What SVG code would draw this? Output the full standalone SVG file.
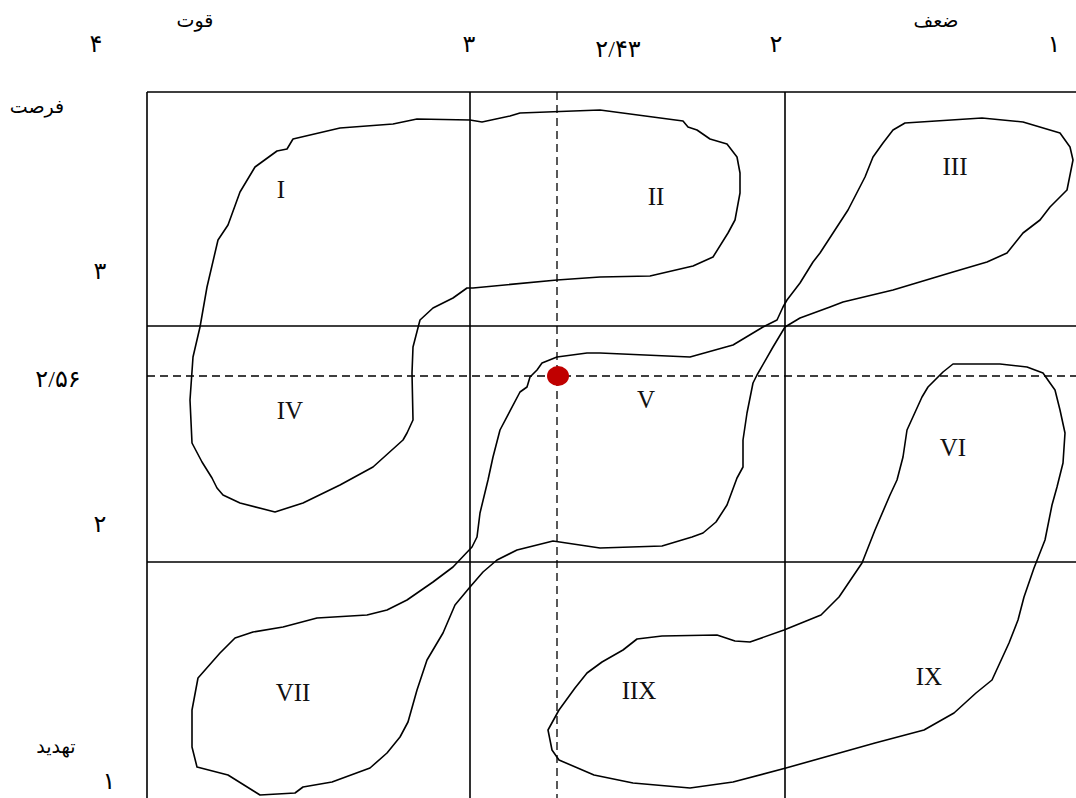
<svg xmlns="http://www.w3.org/2000/svg" width="1076" height="798" viewBox="0 0 1076 798">
<style>
.grid{stroke:#000;stroke-width:1.6;fill:none}
.dash{stroke:#000;stroke-width:1.3;fill:none;stroke-dasharray:8 5}
.blob{fill:none;stroke:#000;stroke-width:1.6;stroke-linejoin:round}
.rn{font-family:"Liberation Serif","Times New Roman",serif;font-size:25px;fill:#111;text-anchor:middle}
.fa{font-family:"Liberation Serif","DejaVu Sans","Noto Sans",serif;font-size:24px;fill:#000;text-anchor:middle}
.fw{font-family:"Liberation Serif","DejaVu Sans","Noto Sans",serif;font-size:19px;fill:#000;text-anchor:middle}
</style>
<rect width="1076" height="798" fill="#fff"/>
<g id="grid">
<path class="grid" d="M147,92 H1076 M147,92 V798 M470,92 V798 M785,92 V798 M147,326 H1076 M147,562 H1076"/>
<path class="dash" d="M147,376 H1076 M557,92 V798"/>
</g>
<g id="connectors">
<path id="blob-I-II-IV" class="blob" d="M293,139 L340,128 L393,124 L417,119 L470,120 L482,122 L510,116 L520,113 L600,110 L683,121 L688,127 L697,130 L710,139 L727,144 L737,157 L740,173 L740,193 L735,220 L728,233 L713,257 L693,266 L650,276 L600,277 L557,280 L473,288 L467,288 L453,298 L433,308 L420,320 L413,347 L412,373 L413,420 L407,433 L403,440 L373,467 L340,485 L303,503 L275,512 L240,503 L223,495 L217,488 L212,478 L202,462 L192,443 L190,400 L193,357 L200,327 L207,287 L218,240 L228,225 L240,192 L255,167 L277,151 L287,149 Z"/>
<path id="blob-III-V-VII" class="blob" d="M557,357 L587,353 L600,353 L690,357 L733,345 L763,327 L777,320 L783,307 L787,300 L800,283 L813,262 L820,253 L848,210 L865,177 L873,157 L883,143 L893,130 L905,123 L982,118 L1023,122 L1060,133 L1070,147 L1073,160 L1067,190 L1050,207 L1040,220 L1023,233 L1007,253 L987,262 L953,272 L933,278 L893,290 L843,302 L830,307 L800,318 L785,327 L773,347 L757,375 L753,383 L747,413 L743,440 L743,467 L737,478 L727,505 L716,522 L703,533 L692,537 L662,546 L600,548 L553,541 L517,550 L497,560 L483,572 L470,587 L455,605 L443,633 L427,660 L417,690 L408,722 L400,737 L387,753 L370,768 L332,782 L303,787 L295,793 L260,795 L228,775 L197,767 L192,747 L192,710 L198,678 L220,653 L235,638 L253,632 L283,627 L317,618 L367,615 L387,610 L407,600 L433,582 L453,567 L472,547 L477,537 L480,513 L488,480 L493,457 L500,430 L520,392 L527,387 L530,377 L537,370 L542,363 Z"/>
<path id="blob-VI-IX-IIX" class="blob" d="M953,364 L1000,364 L1027,367 L1043,373 L1050,383 L1055,390 L1060,410 L1065,433 L1063,463 L1057,487 L1052,505 L1045,540 L1034,568 L1024,597 L1018,620 L1009,643 L992,680 L976,693 L954,713 L924,730 L875,743 L786,768 L733,782 L690,788 L633,783 L594,775 L559,760 L552,750 L548,730 L559,710 L575,688 L587,673 L602,662 L623,650 L637,639 L662,636 L717,635 L735,641 L750,642 L784,630 L821,615 L839,597 L862,563 L875,530 L890,495 L897,480 L903,457 L907,430 L922,397 L928,387 L943,372 Z"/>
</g>
<g id="point"><ellipse cx="558" cy="376" rx="11" ry="10" fill="#c00000"/></g>
<g id="labels">
<text class="rn" x="281" y="198">I</text>
<text class="rn" x="656" y="205">II</text>
<text class="rn" x="955" y="175">III</text>
<text class="rn" x="290" y="419">IV</text>
<text class="rn" x="646" y="408">V</text>
<text class="rn" x="953" y="456">VI</text>
<text class="rn" x="293" y="701">VII</text>
<text class="rn" x="639" y="699">IIX</text>
<text class="rn" x="929" y="685">IX</text>
</g>
<g id="axis-labels">
<text class="fa" x="96" y="52">۴</text>
<text class="fw" x="195" y="27">قوت</text>
<text class="fa" x="469" y="52">۳</text>
<text class="fa" x="618" y="57">۲/۴۳</text>
<text class="fa" x="776" y="52">۲</text>
<text class="fw" x="936" y="27">ضعف</text>
<text class="fa" x="1054" y="52">۱</text>
<text class="fw" x="37" y="113">فرصت</text>
<text class="fa" x="100" y="279">۳</text>
<text class="fa" x="58" y="387">۲/۵۶</text>
<text class="fa" x="100" y="532">۲</text>
<text class="fw" x="56" y="753">تهدید</text>
<text class="fa" x="109" y="789">۱</text>
</g>
</svg>
